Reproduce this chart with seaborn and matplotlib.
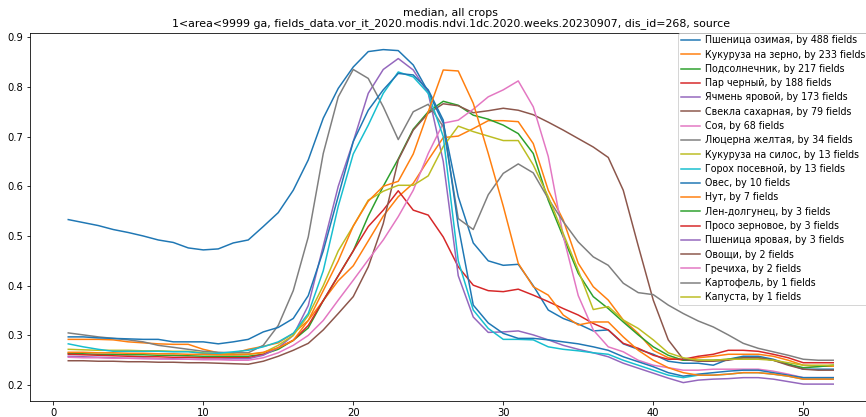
import numpy as np
import matplotlib
matplotlib.use("Agg")
import matplotlib.pyplot as plt
import seaborn as sns

weeks = list(range(1, 53))

labels = [
    "Пшеница озимая, by 488 fields",
    "Кукуруза на зерно, by 233 fields",
    "Подсолнечник, by 217 fields",
    "Пар черный, by 188 fields",
    "Ячмень яровой, by 173 fields",
    "Свекла сахарная, by 79 fields",
    "Соя, by 68 fields",
    "Люцерна желтая, by 34 fields",
    "Кукуруза на силос, by 13 fields",
    "Горох посевной, by 13 fields",
    "Овес, by 10 fields",
    "Нут, by 7 fields",
    "Лен-долгунец, by 3 fields",
    "Просо зерновое, by 3 fields",
    "Пшеница яровая, by 3 fields",
    "Овощи, by 2 fields",
    "Гречиха, by 2 fields",
    "Картофель, by 1 fields",
    "Капуста, by 1 fields",
]

wheat_winter = [0.533, 0.527, 0.521, 0.513, 0.507, 0.500, 0.492, 0.487, 0.476, 0.472,
                0.474, 0.486, 0.492, 0.519, 0.547, 0.592, 0.653, 0.737, 0.797, 0.840,
                0.871, 0.875, 0.873, 0.844, 0.790, 0.727, 0.579, 0.486, 0.450, 0.441,
                0.443, 0.400, 0.351, 0.334, 0.323, 0.309, 0.311, 0.283, 0.272, 0.262,
                0.248, 0.244, 0.244, 0.240, 0.252, 0.258, 0.258, 0.252, 0.242, 0.232,
                0.232, 0.232]
corn_grain = [0.292, 0.292, 0.292, 0.291, 0.287, 0.285, 0.283, 0.282, 0.282, 0.272,
              0.265, 0.264, 0.272, 0.278, 0.285, 0.304, 0.330, 0.370, 0.410, 0.440,
              0.490, 0.540, 0.579, 0.606, 0.653, 0.698, 0.701, 0.716, 0.732, 0.732,
              0.730, 0.686, 0.592, 0.532, 0.445, 0.398, 0.371, 0.331, 0.304, 0.270,
              0.255, 0.250, 0.255, 0.258, 0.262, 0.262, 0.262, 0.258, 0.250, 0.240,
              0.238, 0.238]
sunflower = [0.264, 0.263, 0.262, 0.262, 0.261, 0.261, 0.260, 0.260, 0.259, 0.258,
             0.258, 0.258, 0.258, 0.262, 0.272, 0.290, 0.315, 0.370, 0.420, 0.470,
             0.540, 0.600, 0.655, 0.715, 0.750, 0.771, 0.763, 0.743, 0.735, 0.723,
             0.706, 0.666, 0.572, 0.498, 0.425, 0.378, 0.354, 0.327, 0.301, 0.277,
             0.260, 0.250, 0.250, 0.250, 0.252, 0.255, 0.255, 0.250, 0.242, 0.235,
             0.237, 0.240]
fallow = [0.262, 0.261, 0.260, 0.259, 0.258, 0.257, 0.257, 0.256, 0.256, 0.255,
          0.255, 0.255, 0.255, 0.262, 0.275, 0.290, 0.320, 0.370, 0.420, 0.470,
          0.519, 0.552, 0.591, 0.552, 0.542, 0.498, 0.438, 0.401, 0.390, 0.388,
          0.393, 0.381, 0.368, 0.354, 0.341, 0.324, 0.311, 0.284, 0.274, 0.260,
          0.252, 0.252, 0.258, 0.262, 0.270, 0.270, 0.268, 0.262, 0.255, 0.245,
          0.245, 0.245]
barley_spring = [0.258, 0.257, 0.256, 0.255, 0.254, 0.254, 0.253, 0.253, 0.252, 0.252,
                 0.252, 0.253, 0.253, 0.260, 0.275, 0.300, 0.360, 0.480, 0.600, 0.690,
                 0.787, 0.835, 0.857, 0.834, 0.787, 0.650, 0.420, 0.337, 0.306, 0.307,
                 0.309, 0.301, 0.291, 0.280, 0.272, 0.265, 0.257, 0.244, 0.234, 0.224,
                 0.214, 0.205, 0.210, 0.212, 0.213, 0.215, 0.215, 0.212, 0.207, 0.202,
                 0.202, 0.202]
sugar_beet = [0.249, 0.249, 0.248, 0.248, 0.247, 0.247, 0.246, 0.246, 0.245, 0.245,
              0.244, 0.243, 0.242, 0.248, 0.258, 0.270, 0.284, 0.311, 0.344, 0.378,
              0.438, 0.525, 0.653, 0.713, 0.747, 0.766, 0.762, 0.748, 0.752, 0.757,
              0.753, 0.744, 0.729, 0.713, 0.696, 0.679, 0.658, 0.592, 0.480, 0.371,
              0.291, 0.252, 0.248, 0.248, 0.250, 0.255, 0.255, 0.250, 0.240, 0.232,
              0.230, 0.230]
soy = [0.256, 0.255, 0.255, 0.254, 0.254, 0.253, 0.253, 0.252, 0.252, 0.251,
       0.251, 0.250, 0.250, 0.255, 0.265, 0.280, 0.300, 0.330, 0.371, 0.411,
       0.452, 0.492, 0.539, 0.592, 0.666, 0.727, 0.733, 0.755, 0.780, 0.794,
       0.812, 0.760, 0.660, 0.500, 0.380, 0.311, 0.277, 0.267, 0.250, 0.240,
       0.235, 0.230, 0.230, 0.232, 0.232, 0.232, 0.232, 0.228, 0.222, 0.215,
       0.215, 0.215]
alfalfa = [0.305, 0.301, 0.297, 0.294, 0.291, 0.287, 0.280, 0.276, 0.272, 0.268,
           0.266, 0.265, 0.265, 0.280, 0.320, 0.390, 0.498, 0.666, 0.780, 0.835,
           0.817, 0.760, 0.694, 0.750, 0.765, 0.720, 0.535, 0.513, 0.583, 0.626,
           0.645, 0.627, 0.575, 0.529, 0.488, 0.458, 0.441, 0.405, 0.386, 0.382,
           0.361, 0.344, 0.329, 0.317, 0.301, 0.284, 0.274, 0.267, 0.260, 0.252,
           0.250, 0.250]
corn_silage = [0.272, 0.271, 0.270, 0.270, 0.270, 0.269, 0.269, 0.268, 0.268, 0.265,
               0.263, 0.262, 0.262, 0.265, 0.280, 0.300, 0.340, 0.400, 0.470, 0.520,
               0.572, 0.590, 0.602, 0.602, 0.621, 0.680, 0.721, 0.710, 0.701, 0.692,
               0.692, 0.643, 0.579, 0.505, 0.431, 0.352, 0.358, 0.331, 0.314, 0.291,
               0.265, 0.255, 0.250, 0.250, 0.252, 0.252, 0.252, 0.250, 0.245, 0.240,
               0.240, 0.240]
pea = [0.283, 0.277, 0.272, 0.268, 0.268, 0.268, 0.268, 0.267, 0.267, 0.264,
       0.264, 0.267, 0.270, 0.277, 0.287, 0.304, 0.344, 0.430, 0.560, 0.665,
       0.723, 0.787, 0.830, 0.820, 0.787, 0.700, 0.450, 0.351, 0.314, 0.292,
       0.292, 0.291, 0.277, 0.272, 0.269, 0.265, 0.262, 0.250, 0.240, 0.230,
       0.220, 0.215, 0.220, 0.220, 0.222, 0.225, 0.225, 0.222, 0.218, 0.212,
       0.212, 0.212]
oats = [0.297, 0.297, 0.295, 0.294, 0.293, 0.292, 0.292, 0.287, 0.287, 0.287,
        0.283, 0.287, 0.292, 0.307, 0.316, 0.334, 0.380, 0.470, 0.580, 0.690,
        0.753, 0.794, 0.827, 0.824, 0.794, 0.733, 0.520, 0.361, 0.325, 0.304,
        0.294, 0.294, 0.291, 0.287, 0.283, 0.277, 0.270, 0.257, 0.247, 0.237,
        0.225, 0.218, 0.222, 0.225, 0.228, 0.230, 0.230, 0.225, 0.220, 0.215,
        0.215, 0.215]
chickpea = [0.266, 0.266, 0.265, 0.265, 0.264, 0.264, 0.263, 0.263, 0.262, 0.262,
            0.261, 0.261, 0.262, 0.266, 0.275, 0.290, 0.330, 0.390, 0.450, 0.520,
            0.570, 0.600, 0.610, 0.665, 0.750, 0.834, 0.832, 0.767, 0.666, 0.560,
            0.445, 0.398, 0.381, 0.341, 0.321, 0.327, 0.327, 0.297, 0.270, 0.250,
            0.235, 0.225, 0.220, 0.220, 0.222, 0.225, 0.225, 0.222, 0.218, 0.212,
            0.212, 0.212]
flax = []
millet = []
wheat_spring = []
vegetables = []
buckwheat = []
potato = []
cabbage = []

all_values = [wheat_winter, corn_grain, sunflower, fallow, barley_spring, sugar_beet,
              soy, alfalfa, corn_silage, pea, oats, chickpea, flax, millet,
              wheat_spring, vegetables, buckwheat, potato, cabbage]

palette = sns.color_palette("tab10", 10)

fig = plt.figure(figsize=(866 / 72, 417 / 72), dpi=72)
ax = fig.add_axes([30 / 866, 16 / 417, 841.5 / 866, 368.3 / 417])

for i, (lab, vals) in enumerate(zip(labels, all_values)):
    col = palette[i % 10]
    if len(vals) > 0:
        sns.lineplot(x=weeks[:len(vals)], y=vals, ax=ax, color=col, label=lab,
                     linewidth=1.5, legend=False)
    else:
        ax.plot([], [], color=col, label=lab, linewidth=1.5)

ax.set_xlim(-1.55, 54.55)
ax.set_ylim(0.168, 0.909)
ax.set_xticks([0, 10, 20, 30, 40, 50])
ax.set_yticks([0.2, 0.3, 0.4, 0.5, 0.6, 0.7, 0.8, 0.9])
ax.set_xlabel("")
ax.set_ylabel("")
ax.set_title("median, all crops\n1<area<9999 ga, fields_data.vor_it_2020.modis.ndvi.1dc.2020.weeks.20230907, dis_id=268, source",
             fontsize=11.05, linespacing=1.0, pad=6.5)
ax.legend(loc="upper right", fontsize=9.5, labelspacing=0.45, borderpad=0.25,
          handletextpad=0.6, borderaxespad=0.0,
          bbox_to_anchor=(868 / 866, 1 - 33 / 417), bbox_transform=fig.transFigure)

fig.savefig("out.png", dpi=72)
